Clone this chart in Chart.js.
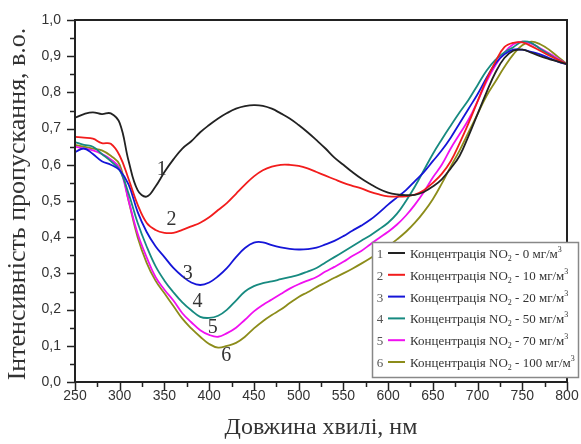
<!DOCTYPE html>
<html>
<head>
<meta charset="utf-8">
<script src="https://cdn.jsdelivr.net/npm/chart.js@4.4.1/dist/chart.umd.min.js"></script>
<style>
  html, body { margin: 0; padding: 0; background: #fff; }
  #wrap { width: 581px; height: 444px; }
</style>
</head>
<body>
<div id="wrap"><canvas id="chart" width="581" height="444"></canvas></div>
<script>
// wavelength, nm
const wavelengths = [250, 260, 270, 280, 290, 300, 310, 320, 330, 340, 350, 360, 370, 380, 390, 400, 410, 420, 430, 440,
  450, 460, 470, 480, 490, 500, 510, 520, 530, 540, 550, 560, 570, 580, 590, 600, 610, 620, 630, 640,
  650, 660, 670, 680, 690, 700, 710, 720, 730, 740, 750, 760, 770, 780, 790, 800];

const no2_0 = [0.73, 0.74, 0.745, 0.74, 0.742, 0.715, 0.61, 0.53, 0.512, 0.54, 0.58, 0.615, 0.645, 0.665, 0.69, 0.71, 0.728, 0.743, 0.755, 0.762,
  0.765, 0.763, 0.755, 0.742, 0.728, 0.71, 0.69, 0.668, 0.645, 0.62, 0.6, 0.58, 0.562, 0.547, 0.533, 0.523, 0.518, 0.516, 0.517, 0.525,
  0.54, 0.56, 0.59, 0.625, 0.68, 0.74, 0.8, 0.855, 0.895, 0.915, 0.918, 0.91, 0.9, 0.892, 0.885, 0.878];
const no2_10 = [0.677, 0.675, 0.672, 0.66, 0.658, 0.625, 0.56, 0.49, 0.44, 0.42, 0.412, 0.412, 0.42, 0.43, 0.44, 0.455, 0.475, 0.495, 0.52, 0.545,
  0.568, 0.585, 0.595, 0.6, 0.6, 0.597, 0.59, 0.58, 0.57, 0.56, 0.55, 0.542, 0.535, 0.525, 0.518, 0.513, 0.512, 0.513, 0.518, 0.53,
  0.55, 0.575, 0.61, 0.66, 0.715, 0.775, 0.835, 0.885, 0.925, 0.937, 0.938, 0.928, 0.915, 0.902, 0.89, 0.878];
const no2_20 = [0.635, 0.645, 0.63, 0.61, 0.6, 0.585, 0.545, 0.47, 0.415, 0.375, 0.345, 0.315, 0.292, 0.275, 0.268, 0.275, 0.292, 0.315, 0.345, 0.37,
  0.385, 0.386, 0.378, 0.372, 0.368, 0.366, 0.367, 0.371, 0.38, 0.39, 0.403, 0.418, 0.432, 0.448, 0.468, 0.49, 0.51, 0.53, 0.555, 0.58,
  0.61, 0.64, 0.675, 0.715, 0.755, 0.795, 0.84, 0.88, 0.905, 0.918, 0.918, 0.912, 0.905, 0.895, 0.885, 0.877];
const no2_50 = [0.663, 0.655, 0.65, 0.63, 0.61, 0.585, 0.52, 0.44, 0.375, 0.32, 0.28, 0.248, 0.22, 0.198, 0.18, 0.177, 0.183, 0.2, 0.225, 0.25,
  0.265, 0.273, 0.278, 0.284, 0.29, 0.296, 0.305, 0.315, 0.33, 0.345, 0.36, 0.375, 0.39, 0.405, 0.422, 0.44, 0.465, 0.5, 0.54, 0.585,
  0.63, 0.67, 0.708, 0.745, 0.78, 0.82, 0.86, 0.89, 0.91, 0.925, 0.94, 0.937, 0.92, 0.905, 0.89, 0.878];
const no2_70 = [0.65, 0.645, 0.64, 0.63, 0.615, 0.59, 0.5, 0.41, 0.345, 0.29, 0.255, 0.225, 0.19, 0.165, 0.143, 0.13, 0.125, 0.135, 0.15, 0.172,
  0.195, 0.213, 0.228, 0.243, 0.258, 0.27, 0.28, 0.29, 0.305, 0.318, 0.332, 0.348, 0.362, 0.38, 0.398, 0.415, 0.435, 0.46, 0.49, 0.525,
  0.565, 0.6, 0.645, 0.685, 0.725, 0.775, 0.83, 0.875, 0.91, 0.933, 0.94, 0.935, 0.922, 0.908, 0.893, 0.878];
const no2_100 = [0.655, 0.65, 0.645, 0.64, 0.625, 0.6, 0.5, 0.4, 0.33, 0.28, 0.245, 0.21, 0.175, 0.148, 0.125, 0.105, 0.095, 0.1, 0.108, 0.125,
  0.148, 0.168, 0.185, 0.2, 0.218, 0.235, 0.248, 0.262, 0.275, 0.288, 0.3, 0.313, 0.327, 0.342, 0.358, 0.375, 0.394, 0.415, 0.44, 0.47,
  0.505, 0.548, 0.595, 0.64, 0.69, 0.74, 0.79, 0.83, 0.87, 0.905, 0.93, 0.94, 0.933, 0.918, 0.898, 0.878];

const seriesValues = [no2_0, no2_10, no2_20, no2_50, no2_70, no2_100];
const concentrations = ['0', '10', '20', '50', '70', '100'];
const colors = ['#222222', '#f21c1c', '#1515d8', '#178a80', '#f010f0', '#8c8c1a'];

// curve number labels, placed in data units
const curveLabels = [
  { t: '1', x: 347, y: 0.585 },
  { t: '2', x: 358, y: 0.447 },
  { t: '3', x: 376, y: 0.3 },
  { t: '4', x: 387, y: 0.222 },
  { t: '5', x: 404, y: 0.15 },
  { t: '6', x: 419, y: 0.072 }
];

const serif = '"Liberation Serif", "Times New Roman", serif';
const sans = '"Liberation Sans", Arial, sans-serif';

const decor = {
  id: 'decor',
  afterDraw(chart) {
    const { ctx, chartArea: a, scales: { x, y } } = chart;
    ctx.save();

    // frame
    ctx.strokeStyle = '#222';
    ctx.lineWidth = 2;
    ctx.strokeRect(a.left, a.top, a.right - a.left, a.bottom - a.top);

    // ticks (major + minor, outward)
    ctx.lineWidth = 1.5;
    ctx.beginPath();
    for (let i = 0; i <= 20; i++) {
      const py = Math.round(y.getPixelForValue(i * 0.05)) + 0.5;
      const len = i % 2 === 0 ? 8 : 5;
      ctx.moveTo(a.left - len, py);
      ctx.lineTo(a.left, py);
    }
    for (let i = 0; i <= 22; i++) {
      const px = Math.round(x.getPixelForValue(250 + i * 25)) + 0.5;
      const len = i % 2 === 0 ? 8 : 5;
      ctx.moveTo(px, a.bottom);
      ctx.lineTo(px, a.bottom + len);
    }
    ctx.stroke();

    // curve numbers
    ctx.fillStyle = '#333';
    ctx.font = '20px ' + serif;
    ctx.textAlign = 'center';
    ctx.textBaseline = 'middle';
    curveLabels.forEach(l => {
      ctx.fillText(l.t, x.getPixelForValue(l.x), y.getPixelForValue(l.y));
    });

    // legend
    const bx = 372, by = 242, bw = 206, bh = 135;
    ctx.fillStyle = '#fff';
    ctx.fillRect(bx, by, bw, bh);
    ctx.strokeStyle = '#888';
    ctx.lineWidth = 1.5;
    ctx.strokeRect(bx + 0.5, by + 0.5, bw, bh);
    ctx.textBaseline = 'alphabetic';
    concentrations.forEach((c, i) => {
      const ry = 253 + i * 21.8;
      ctx.fillStyle = '#555';
      ctx.font = '13px ' + serif;
      ctx.textAlign = 'center';
      ctx.fillText(String(i + 1), 380, ry + 5);
      ctx.strokeStyle = colors[i];
      ctx.lineWidth = 2;
      ctx.beginPath();
      ctx.moveTo(388, ry);
      ctx.lineTo(405, ry);
      ctx.stroke();
      ctx.textAlign = 'left';
      ctx.fillStyle = '#333';
      let tx = 410;
      const part = (s, f, dy) => {
        ctx.font = f;
        ctx.fillText(s, tx, ry + 5 + dy);
        tx += ctx.measureText(s).width;
      };
      part('Концентрація NO', '13px ' + serif, 0);
      part('2', '8px ' + serif, 3);
      part(' - ' + c + ' мг/м', '13px ' + serif, 0);
      part('3', '8px ' + serif, -6);
    });

    // axis titles
    ctx.fillStyle = '#333';
    ctx.textAlign = 'center';
    ctx.textBaseline = 'middle';
    ctx.font = '24px ' + serif;
    ctx.fillText('Довжина хвилі, нм', (a.left + a.right) / 2, 428);
    ctx.font = '26px ' + serif;
    ctx.translate(18, 204);
    ctx.rotate(-Math.PI / 2);
    ctx.fillText('Інтенсивність пропускання, в.о.', 0, 0);

    ctx.restore();
  }
};

new Chart(document.getElementById('chart'), {
  type: 'line',
  data: {
    datasets: seriesValues.map((vals, i) => ({
      label: 'Концентрація NO2 - ' + concentrations[i] + ' мг/м3',
      data: wavelengths.map((w, k) => ({ x: w, y: vals[k] })),
      borderColor: colors[i],
      borderWidth: 1.8,
      pointRadius: 0,
      fill: false,
      tension: 0.4
    }))
  },
  options: {
    responsive: false,
    animation: false,
    devicePixelRatio: 1,
    layout: { padding: { top: 20, right: 14, left: 0, bottom: 0 } },
    plugins: { legend: { display: false }, tooltip: { enabled: false } },
    scales: {
      x: {
        type: 'linear',
        min: 250,
        max: 800,
        afterFit: s => { s.height = 62; s.paddingLeft = 0; s.paddingRight = 0; },
        ticks: { stepSize: 50, padding: 6, color: '#333', font: { family: sans, size: 14 } },
        grid: { display: false, drawTicks: false },
        border: { display: false }
      },
      y: {
        min: 0,
        max: 1,
        afterFit: s => { s.width = 75; s.paddingTop = 0; s.paddingBottom = 0; },
        ticks: {
          stepSize: 0.1,
          padding: 14,
          color: '#333',
          font: { family: sans, size: 14 },
          callback: v => v.toFixed(1).replace('.', ',')
        },
        grid: { display: false, drawTicks: false },
        border: { display: false }
      }
    }
  },
  plugins: [decor]
});
</script>
</body>
</html>
